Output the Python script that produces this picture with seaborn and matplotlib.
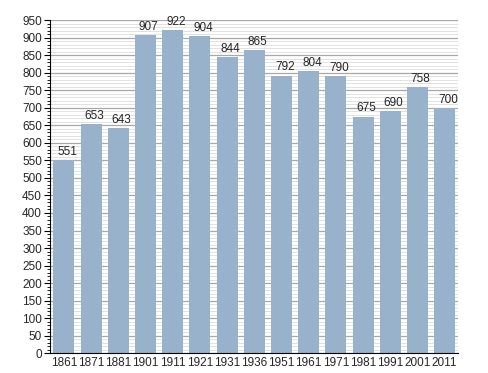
import matplotlib
matplotlib.use("Agg")
import matplotlib.pyplot as plt
from matplotlib.ticker import MultipleLocator
import seaborn as sns
import pandas as pd

years = ["1861", "1871", "1881", "1901", "1911", "1921", "1931", "1936",
         "1951", "1961", "1971", "1981", "1991", "2001", "2011"]
population = [551, 653, 643, 907, 922, 904, 844, 865,
              792, 804, 790, 675, 690, 758, 700]

df = pd.DataFrame({"year": years, "pop": population})

sns.set_style("white")
plt.rcParams["font.family"] = ["Liberation Sans", "DejaVu Sans"]

fig = plt.figure(figsize=(4.88, 3.73), dpi=100)
ax = fig.add_axes([0.103, 0.053, 0.836, 0.893])

ax.set_axisbelow(True)
sns.barplot(data=df, x="year", y="pop", color="#98b2cc", saturation=1,
            width=0.77, linewidth=0, ax=ax)

ax.set_ylim(0, 950)
ax.set_xlim(-0.5, len(years) - 0.5)
ax.yaxis.set_major_locator(MultipleLocator(50))
ax.yaxis.set_minor_locator(MultipleLocator(10))
ax.grid(which="major", axis="y", color="#a8a8a8", linewidth=0.9)
ax.grid(which="minor", axis="y", color="#e2e2e2", linewidth=0.7)
ax.tick_params(axis="y", which="major", length=4, width=0.8, left=True,
               labelsize=8.5, pad=2, color="black")
ax.tick_params(axis="y", which="minor", length=2, width=0.6, left=True,
               color="black")
ax.tick_params(axis="x", length=0, labelsize=8.5, pad=3)

for s in ["top", "right"]:
    ax.spines[s].set_visible(False)
ax.spines["left"].set_color("black")
ax.spines["bottom"].set_color("black")
ax.set_xlabel("")
ax.set_ylabel("")

# value labels above each bar
for i, v in enumerate(population):
    ax.text(i + 0.12, v + 6, str(v), ha="center", va="bottom", fontsize=8.5)

fig.savefig("out.png", dpi=100)
